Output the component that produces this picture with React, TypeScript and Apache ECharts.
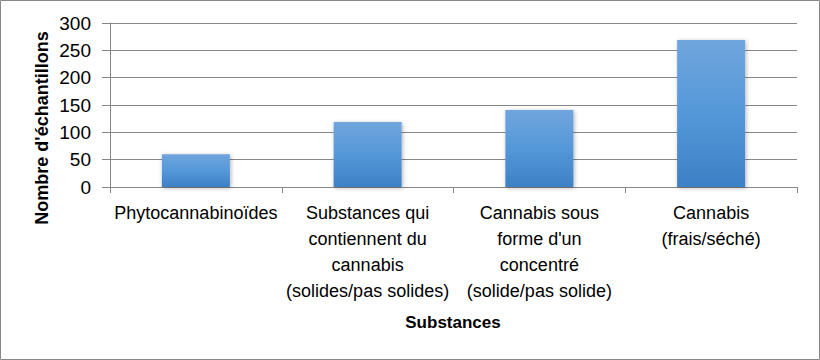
import React, { useEffect, useRef } from "react";
import * as echarts from "echarts";

const categories = [
  "Phytocannabinoïdes",
  "Substances qui\ncontiennent du\ncannabis\n(solides/pas solides)",
  "Cannabis sous\nforme d'un\nconcentré\n(solide/pas solide)",
  "Cannabis\n(frais/séché)",
];
const values = [60, 119, 141, 269];
const yTicks = { min: 0, max: 300, interval: 50 };
const yAxisTitle = "Nombre d'échantillons";
const xAxisTitle = "Substances";

const FONT = "'Liberation Sans', Arial, sans-serif";
const GRID = "#878787";

export default function App() {
  const ref = useRef<HTMLDivElement>(null);
  useEffect(() => {
    if (!ref.current) return;
    const chart = echarts.init(ref.current, null, { renderer: "svg" });
    chart.setOption({
      animation: false,
      backgroundColor: "#ffffff",
      grid: { left: 110, right: 23, top: 23, bottom: 173, containLabel: false },
      xAxis: {
        type: "category",
        data: categories,
        axisLine: { show: true, lineStyle: { color: GRID, width: 1 } },
        axisTick: { show: true, length: 6, lineStyle: { color: GRID } },
        axisLabel: {
          interval: 0,
          color: "#000",
          fontFamily: FONT,
          fontSize: 18,
          lineHeight: 26,
          margin: 13,
        },
      },
      yAxis: {
        type: "value",
        min: yTicks.min,
        max: yTicks.max,
        interval: yTicks.interval,
        axisLine: { show: true, lineStyle: { color: GRID, width: 1 } },
        axisTick: { show: true, inside: false, length: 8, lineStyle: { color: GRID } },
        splitLine: { show: true, lineStyle: { color: GRID, width: 1 } },
        axisLabel: {
          color: "#000",
          fontFamily: FONT,
          fontSize: 19,
          margin: 19,
        },
      },
      series: [
        {
          type: "bar",
          data: values,
          barWidth: 68,
          itemStyle: {
            color: new echarts.graphic.LinearGradient(0, 0, 0, 1, [
              { offset: 0, color: "#70a5dd" },
              { offset: 0.5, color: "#5598d9" },
              { offset: 1, color: "#3d80c5" },
            ]),
            shadowBlur: 4,
            shadowColor: "rgba(0,0,0,0.3)",
            shadowOffsetX: 1,
            shadowOffsetY: 1,
          },
        },
      ],
      graphic: [
        {
          type: "rect",
          shape: { x: 0.5, y: 0.5, width: 819, height: 359 },
          style: { fill: "none", stroke: GRID, lineWidth: 1 },
          silent: true,
        },
        {
          type: "text",
          x: 42,
          y: 128,
          rotation: Math.PI / 2,
          style: {
            text: yAxisTitle,
            fontFamily: FONT,
            fontSize: 18,
            fontWeight: "bold",
            fill: "#000",
            align: "center",
            verticalAlign: "middle",
          },
        },
        {
          type: "text",
          x: 453,
          y: 322,
          style: {
            text: xAxisTitle,
            fontFamily: FONT,
            fontSize: 17,
            fontWeight: "bold",
            fill: "#000",
            align: "center",
            verticalAlign: "middle",
          },
        },
      ],
    });
    return () => chart.dispose();
  }, []);
  return (
    <div
      ref={ref}
      style={{ position: "absolute", left: 0, top: 0, width: 820, height: 360 }}
    />
  );
}
